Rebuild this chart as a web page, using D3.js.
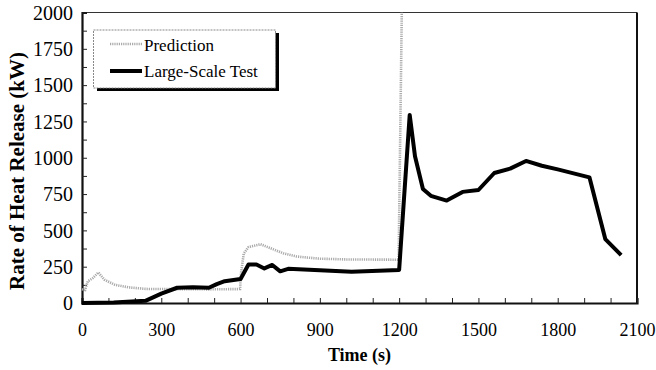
<!DOCTYPE html>
<html>
<head>
<meta charset="utf-8">
<script src="https://cdn.jsdelivr.net/npm/d3@7"></script>
<style>
  body { margin: 0; background: #fff; }
  svg { font-family: "Liberation Serif", "Times New Roman", serif; }
</style>
</head>
<body>
<div id="chart"></div>
<script>
// time (s) and heat release (kW)
var predTime = [0, 12, 22, 40, 62, 85, 125, 175, 240, 480, 598, 602, 612, 630, 675, 712, 762, 812, 900, 1000, 1198, 1210];
var predValue = [95, 90, 150, 170, 210, 160, 125, 108, 97, 94, 96, 210, 340, 385, 405, 378, 342, 320, 305, 300, 298, 2000];

var testTime = [0, 120, 240, 300, 360, 420, 480, 510, 540, 600, 630, 660, 690, 720, 750, 780, 900, 1020, 1200, 1240, 1260, 1290, 1320, 1380, 1440, 1500, 1560, 1620, 1680, 1740, 1800, 1920, 1980, 2040];
var testValue = [0, 3, 15, 65, 105, 108, 105, 130, 150, 165, 265, 265, 238, 262, 218, 235, 225, 215, 228, 1295, 1010, 785, 738, 705, 765, 778, 895, 925, 978, 945, 920, 865, 440, 330];

var xTicks = d3.range(0, 2101, 100);
var yTicks = d3.range(0, 2001, 125);

var chartW = 656, chartH = 370;
var padL = 82, padR = 637, padT = 12.5, padB = 303;

var svg = d3.select("#chart").append("svg")
      .attr("width", chartW)
      .attr("height", chartH);

var x = d3.scaleLinear().domain([0, 2100]).range([padL, padR]);
var y = d3.scaleLinear().domain([0, 2000]).range([padB, padT]);

// frame
svg.append("line")
      .attr("x1", padL).attr("x2", padR)
      .attr("y1", padT).attr("y2", padT)
      .attr("stroke", "#333").attr("stroke-width", 1.2);
svg.append("line")
      .attr("x1", padR).attr("x2", padR)
      .attr("y1", padT).attr("y2", padB)
      .attr("stroke", "#111").attr("stroke-width", 2);

var xAxis = svg.append("g")
      .attr("transform", "translate(0," + padB + ")")
      .call(d3.axisBottom(x).tickValues(xTicks).tickSize(-5).tickPadding(20)
        .tickFormat(function(d){ return d % 300 === 0 ? d : ""; }));

var yAxis = svg.append("g")
      .attr("transform", "translate(" + padL + ",0)")
      .call(d3.axisLeft(y).tickValues(yTicks).tickSize(-5).tickPadding(9)
        .tickFormat(function(d){ return d % 250 === 0 ? d : ""; }));

[xAxis, yAxis].forEach(function(a){
  a.select(".domain").attr("stroke", "#111").attr("stroke-width", 2.2);
  a.selectAll(".tick line").attr("stroke", "#222").attr("stroke-width", 1);
  a.selectAll("text")
        .attr("font-family", "Liberation Serif")
        .attr("font-size", 18)
        .attr("fill", "#000");
});
yAxis.selectAll("text").attr("font-size", 20).attr("dy", "0.34em");

// series
var line = d3.line()
      .x(function(d){ return x(d[0]); })
      .y(function(d){ return y(d[1]); });

var predData = predTime.map(function(t, i){ return [t, predValue[i]]; });
var testData = testTime.map(function(t, i){ return [t, testValue[i]]; });

svg.append("path")
      .attr("d", line(predData))
      .attr("fill", "none")
      .attr("stroke", "#aaa")
      .attr("stroke-width", 2.6)
      .attr("stroke-dasharray", "1.2,1");

svg.append("path")
      .attr("d", line(testData))
      .attr("fill", "none")
      .attr("stroke", "#000")
      .attr("stroke-width", 4)
      .attr("stroke-linejoin", "round");

// axis titles
svg.append("text")
      .attr("x", (padL + padR) / 2)
      .attr("y", 361)
      .attr("text-anchor", "middle")
      .attr("font-weight", "bold")
      .attr("font-size", 18)
      .text("Time (s)");

svg.append("text")
      .attr("transform", "translate(24," + 171 + ") rotate(-90)")
      .attr("text-anchor", "middle")
      .attr("font-weight", "bold")
      .attr("font-size", 21)
      .text("Rate of Heat Release (kW)");

// legend
var legend = svg.append("g");
legend.append("rect")
      .attr("x", 97).attr("y", 33)
      .attr("width", 182).attr("height", 58)
      .attr("fill", "#000");
legend.append("rect")
      .attr("x", 93.5).attr("y", 30)
      .attr("width", 182).attr("height", 58)
      .attr("fill", "#fff")
      .attr("stroke", "#888")
      .attr("stroke-width", 1)
      .attr("stroke-dasharray", "2,1");

legend.append("line")
      .attr("x1", 110).attr("x2", 142)
      .attr("y1", 44).attr("y2", 44)
      .attr("stroke", "#aaa").attr("stroke-width", 2.6)
      .attr("stroke-dasharray", "1.2,1");
legend.append("text")
      .attr("x", 144).attr("y", 50.5)
      .attr("font-size", 17)
      .text("Prediction");

legend.append("line")
      .attr("x1", 110).attr("x2", 142)
      .attr("y1", 71).attr("y2", 71)
      .attr("stroke", "#000").attr("stroke-width", 4);
legend.append("text")
      .attr("x", 144).attr("y", 77)
      .attr("font-size", 17)
      .text("Large-Scale Test");
</script>
</body>
</html>
